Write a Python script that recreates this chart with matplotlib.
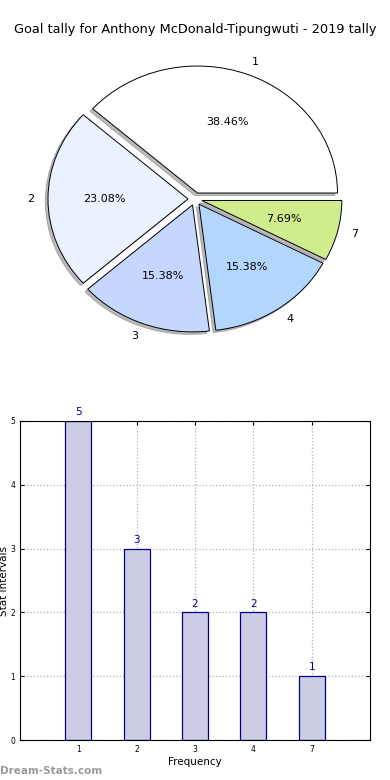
import numpy as np
import matplotlib
matplotlib.use("Agg")
import matplotlib.pyplot as plt

labels = ["1", "2", "3", "4", "7"]
counts = [5, 3, 2, 2, 1]
pie_colors = ["#ffffff", "#eaf1ff", "#c5d6ff", "#b3d6ff", "#d0ec8c"]

fig = plt.figure(figsize=(3.9, 7.8), dpi=100)

# pie (not equal aspect, old-style look)
ax1 = fig.add_axes([20 / 390, 0.5414, 350 / 390, 317.5 / 780])
wedges, texts, autotexts = ax1.pie(
    counts, labels=labels, colors=pie_colors, autopct="%1.2f%%",
    explode=[0.05] * len(counts), shadow={"ox": -0.014, "oy": -0.014, "color": "#777777"},
    startangle=0, counterclock=True, labeldistance=1.1, pctdistance=0.6,
    wedgeprops={"edgecolor": "black", "linewidth": 0.7},
    textprops={"fontsize": 8})
ax1.set_aspect("auto")
ax1.set_xlim(-1.25, 1.25)
ax1.set_ylim(-1.25, 1.25)
fig.text(0.5, 1 - 30 / 780, "Goal tally for Anthony McDonald-Tipungwuti - 2019 tally",
         ha="center", va="center", fontsize=9.3)

# bars
ax2 = fig.add_axes([20 / 390, 40 / 780, 350 / 390, 319 / 780])
x = np.arange(len(labels))
ax2.bar(x, counts, width=0.45, color="#cccce4", edgecolor="#00008b",
        linewidth=0.9, zorder=2)
for xi, c in zip(x, counts):
    ax2.text(xi, c + 0.06, str(c), ha="center", va="bottom", color="#00008b", fontsize=7.5)
ax2.set_xlim(-1, 5)
ax2.set_ylim(0, 5)
ax2.set_xticks(x)
ax2.set_xticklabels(labels)
ax2.set_yticks(range(6))
ax2.tick_params(direction="in", labelsize=5.5, top=True, right=True, length=3)
ax2.grid(True, linestyle=":", color="#b0b0b0", linewidth=0.9, zorder=0)
ax2.set_axisbelow(True)
ax2.set_xlabel("Frequency", fontsize=7.5, labelpad=2)
ax2.set_ylabel("Stat Intervals", fontsize=7.5)
ax2.yaxis.set_label_coords(-0.032, 0.5)

fig.text(0, 1 - 771 / 780, "Dream-Stats.com", color="#999999", fontsize=7.5,
         fontweight="bold", va="center", ha="left")

fig.savefig("out.png", dpi=100)
